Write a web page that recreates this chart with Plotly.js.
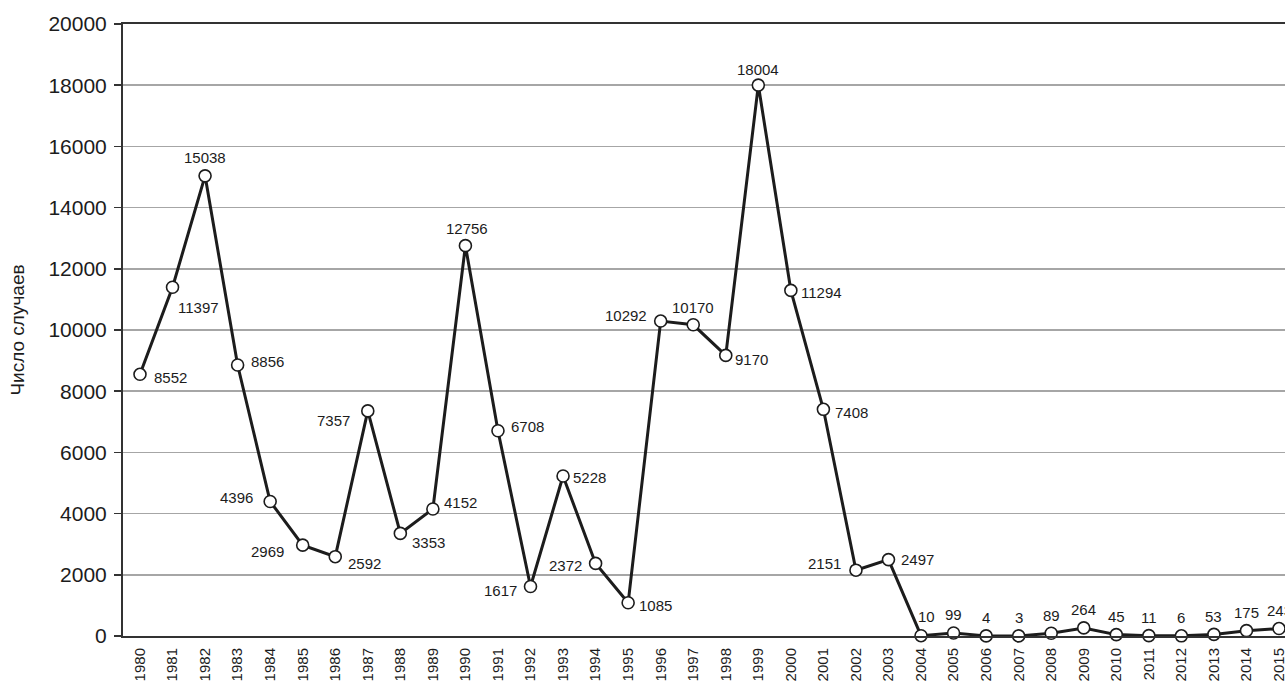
<!DOCTYPE html>
<html>
<head>
<meta charset="utf-8">
<script src="https://cdn.plot.ly/plotly-3.0.1.min.js"></script>
<style>
html,body{margin:0;padding:0;background:#fff;}
#chart{width:1285px;height:684px;}
</style>
</head>
<body>
<div id="chart"></div>
<script>
// Data
var years = [1980,1981,1982,1983,1984,1985,1986,1987,1988,1989,1990,1991,1992,1993,1994,1995,1996,1997,1998,1999,2000,2001,2002,2003,2004,2005,2006,2007,2008,2009,2010,2011,2012,2013,2014,2015];
var cases = [8552,11397,15038,8856,4396,2969,2592,7357,3353,4152,12756,6708,1617,5228,2372,1085,10292,10170,9170,18004,11294,7408,2151,2497,10,99,4,3,89,264,45,11,6,53,175,243];
var yTickVals = [0,2000,4000,6000,8000,10000,12000,14000,16000,18000,20000];
var yTitle = 'Число случаев';

// Label placement (pixel offsets from each point: [dx, dy], dy positive = down)
var labelOffsets = [
  [31,3],[26,20],[0,-18],[30,-4],[-34,-4],[-35,6],[29,7],[-34,10],[28,9],[28,-6],
  [2,-17],[30,-4],[-30,4],[26,1],[-30,2],[27,3],[-35,-6],[0,-17],[26,4],[0,-16],
  [31,2],[28,3],[-31,-7],[29,0],[5,-19],[0,-18],[0,-18],[0,-18],[0,-18],[0,-18],
  [0,-18],[0,-18],[0,-18],[0,-18],[0,-18],[0,-18]
];

var fontFam = '"Liberation Sans", Arial, Helvetica, sans-serif';
var ink = '#1c1c1c';

var trace = {
  x: years,
  y: cases,
  type: 'scatter',
  mode: 'lines+markers',
  line: {color: ink, width: 3},
  marker: {size: 12, color: '#ffffff', line: {color: ink, width: 1.6}},
  cliponaxis: false,
  hoverinfo: 'x+y'
};

var annotations = cases.map(function(v, i){
  return {
    x: years[i], y: v, xref: 'x', yref: 'y',
    text: String(v), showarrow: false,
    xanchor: 'center', yanchor: 'middle',
    xshift: labelOffsets[i][0], yshift: -labelOffsets[i][1],
    font: {family: fontFam, size: 15, color: ink}
  };
});

var layout = {
  width: 1285, height: 684,
  margin: {l: 123, r: 0, t: 24, b: 48, pad: 0},
  paper_bgcolor: '#ffffff', plot_bgcolor: '#ffffff',
  showlegend: false,
  font: {family: fontFam, color: ink},
  xaxis: {
    range: [1979.478, 2015.184],
    tickmode: 'array', tickvals: years, ticktext: years.map(String),
    tickangle: -90,
    tickfont: {family: fontFam, size: 15, color: ink},
    ticklabelstandoff: 4,
    ticklabeloverflow: 'allow',
    showgrid: false, zeroline: false,
    showline: true, linecolor: '#333333', linewidth: 2, mirror: true,
    ticks: '', fixedrange: true
  },
  yaxis: {
    range: [0, 20000],
    tickmode: 'array', tickvals: yTickVals, ticktext: yTickVals.map(String),
    tickfont: {family: fontFam, size: 21, color: ink},
    ticklabelstandoff: 3,
    ticks: 'outside', ticklen: 7, tickwidth: 1.5, tickcolor: '#333333',
    showgrid: true, gridcolor: '#a6a6a6', gridwidth: 1.5,
    zeroline: false, showline: true, linecolor: '#333333', linewidth: 2,
    title: {text: yTitle, font: {family: fontFam, size: 19, color: ink}, standoff: 19},
    fixedrange: true
  },
  annotations: annotations
};

Plotly.newPlot('chart', [trace], layout, {displayModeBar: false, staticPlot: true});
</script>
</body>
</html>
